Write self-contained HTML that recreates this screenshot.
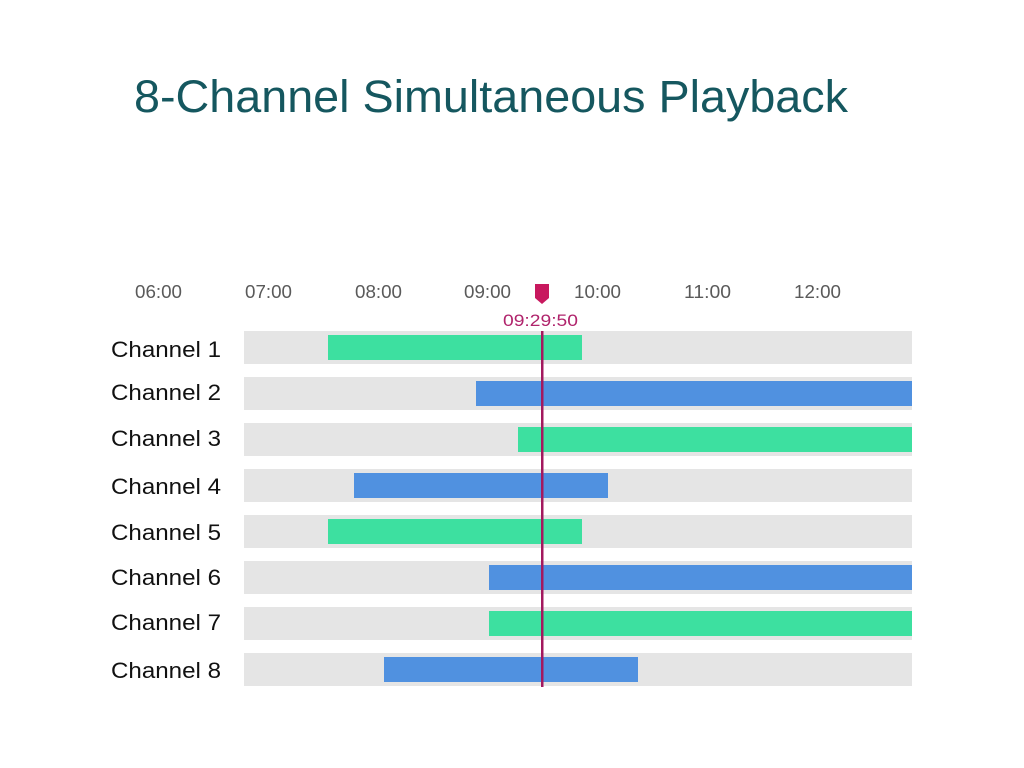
<!DOCTYPE html>
<html><head><meta charset="utf-8"><style>body{margin:0;background:#fff}svg{display:block}</style></head>
<body>
<svg width="1024" height="768" xmlns="http://www.w3.org/2000/svg" font-family="Liberation Sans, sans-serif">
<rect width="1024" height="768" fill="#fff"/>
<text x="134" y="112" font-size="45" fill="#15575f" textLength="714" lengthAdjust="spacingAndGlyphs">8-Channel Simultaneous Playback</text>
<g font-size="18" fill="#5a5a5a">
<text x="135" y="298" textLength="47" lengthAdjust="spacingAndGlyphs">06:00</text><text x="245" y="298" textLength="47" lengthAdjust="spacingAndGlyphs">07:00</text><text x="355" y="298" textLength="47" lengthAdjust="spacingAndGlyphs">08:00</text><text x="464" y="298" textLength="47" lengthAdjust="spacingAndGlyphs">09:00</text><text x="574" y="298" textLength="47" lengthAdjust="spacingAndGlyphs">10:00</text><text x="684" y="298" textLength="47" lengthAdjust="spacingAndGlyphs">11:00</text><text x="794" y="298" textLength="47" lengthAdjust="spacingAndGlyphs">12:00</text>
</g>
<g font-size="22" fill="#111">
<text x="111" y="357" textLength="110" lengthAdjust="spacingAndGlyphs">Channel 1</text><text x="111" y="400" textLength="110" lengthAdjust="spacingAndGlyphs">Channel 2</text><text x="111" y="446" textLength="110" lengthAdjust="spacingAndGlyphs">Channel 3</text><text x="111" y="494" textLength="110" lengthAdjust="spacingAndGlyphs">Channel 4</text><text x="111" y="540" textLength="110" lengthAdjust="spacingAndGlyphs">Channel 5</text><text x="111" y="585" textLength="110" lengthAdjust="spacingAndGlyphs">Channel 6</text><text x="111" y="630" textLength="110" lengthAdjust="spacingAndGlyphs">Channel 7</text><text x="111" y="678" textLength="110" lengthAdjust="spacingAndGlyphs">Channel 8</text>
</g>
<g fill="#e5e5e5">
<rect x="244" y="331" width="668" height="33"/><rect x="244" y="377" width="668" height="33"/><rect x="244" y="423" width="668" height="33"/><rect x="244" y="469" width="668" height="33"/><rect x="244" y="515" width="668" height="33"/><rect x="244" y="561" width="668" height="33"/><rect x="244" y="607" width="668" height="33"/><rect x="244" y="653" width="668" height="33"/>
</g>
<rect x="328" y="335" width="254" height="25" fill="#3de0a0"/>
<rect x="476" y="381" width="436" height="25" fill="#5091e0"/>
<rect x="518" y="427" width="394" height="25" fill="#3de0a0"/>
<rect x="354" y="473" width="254" height="25" fill="#5091e0"/>
<rect x="328" y="519" width="254" height="25" fill="#3de0a0"/>
<rect x="489" y="565" width="423" height="25" fill="#5091e0"/>
<rect x="489" y="611" width="423" height="25" fill="#3de0a0"/>
<rect x="384" y="657" width="254" height="25" fill="#5091e0"/>
<rect x="541" y="331" width="2.5" height="356" fill="#a3185e"/>
<path d="M535 284 H549 V298 L542 304 L535 298 Z" fill="#c8185e"/>
<text x="503" y="326" font-size="17" fill="#b0246c" textLength="75" lengthAdjust="spacingAndGlyphs">09:29:50</text>
</svg>
</body></html>
